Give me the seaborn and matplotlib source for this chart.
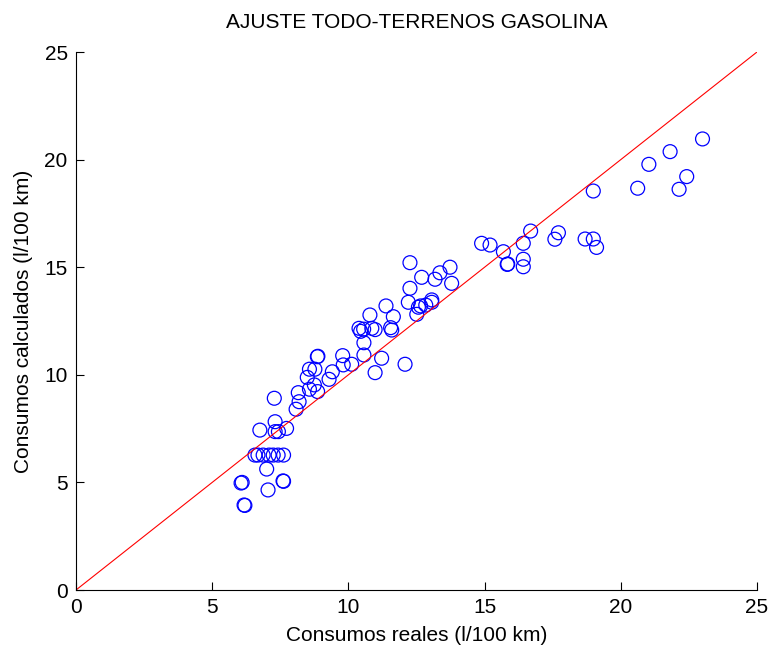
import matplotlib
matplotlib.use("Agg")
import matplotlib.pyplot as plt
import seaborn as sns
import pandas as pd

reales = [6.06, 6.10, 6.17, 6.20, 7.05, 7.00, 7.60, 7.62,
          6.57, 6.68, 6.87, 7.09, 7.24, 7.42, 7.62,
          6.75, 7.31, 7.43, 7.31, 7.73, 7.28,
          8.08, 8.19, 8.16, 8.49, 8.57, 8.77, 8.86, 8.88,
          8.75, 8.57, 8.87, 9.29, 9.41, 9.79, 9.81, 10.12,
          10.57, 10.57, 10.98, 11.22, 12.08,
          10.39, 10.45, 10.56, 10.86, 10.98, 10.79, 11.38,
          11.65, 11.55, 11.59, 12.20, 12.26, 12.26,
          12.57, 12.65, 12.84, 13.06, 13.06, 12.51,
          12.69, 13.18, 13.36, 13.73, 13.79,
          14.89, 15.20, 15.69, 15.83, 15.85, 16.42, 16.69, 16.42, 16.42,
          17.71, 17.58, 18.69, 18.99, 19.11,
          18.99, 20.62, 21.03, 21.81, 23.00, 22.42, 22.14]
calculados = [4.97, 5.00, 3.95, 3.93, 4.65, 5.62, 5.07, 5.05,
              6.27, 6.27, 6.27, 6.27, 6.27, 6.27, 6.27,
              7.43, 7.82, 7.36, 7.36, 7.51, 8.91,
              8.40, 8.75, 9.17, 9.88, 10.26, 10.26, 10.84, 10.86,
              9.53, 9.33, 9.22, 9.79, 10.14, 10.89, 10.46, 10.49,
              11.49, 10.92, 10.10, 10.77, 10.49,
              12.16, 12.02, 12.12, 12.16, 12.10, 12.78, 13.20,
              12.70, 12.19, 12.08, 13.37, 14.02, 15.21,
              13.14, 13.20, 13.24, 13.48, 13.37, 12.81,
              14.53, 14.44, 14.74, 15.00, 14.25,
              16.11, 16.03, 15.72, 15.13, 15.15, 16.11, 16.68, 15.37, 15.02,
              16.60, 16.30, 16.31, 16.31, 15.92,
              18.54, 18.67, 19.78, 20.37, 20.96, 19.21, 18.62]
linea = [0, 25]
ticks = [0, 5, 10, 15, 20, 25]

sns.set_style("white")
plt.rcParams['font.family'] = ['Liberation Sans', 'DejaVu Sans']
plt.rcParams['text.color'] = 'black'
plt.rcParams['axes.labelcolor'] = 'black'

df = pd.DataFrame({"x": reales, "y": calculados})
fig = plt.figure(figsize=(7.69, 6.46), dpi=100)
ax = fig.add_axes([76/769, 56/646, 681/769, 538/646])

sns.lineplot(x=linea, y=linea, ax=ax, color="red", linewidth=0.8)
sns.scatterplot(data=df, x="x", y="y", ax=ax, marker="o", s=100,
                facecolor="none", edgecolor="blue", linewidth=0.9)

ax.set_xlim(0, 25)
ax.set_ylim(0, 25)
ax.set_xticks(ticks)
ax.set_yticks(ticks)
ax.tick_params(direction="in", length=6, width=0.8, labelsize=15, colors="black",
               bottom=True, left=True, pad=6)
for s in ["top", "right"]:
    ax.spines[s].set_visible(False)
for s in ["left", "bottom"]:
    ax.spines[s].set_color("black")
    ax.spines[s].set_linewidth(0.8)

ax.set_xlabel("Consumos reales (l/100 km)", fontsize=15, labelpad=6, color="black")
ax.set_ylabel("Consumos calculados (l/100 km)", fontsize=15, labelpad=8, color="black")
ax.set_title("AJUSTE TODO-TERRENOS GASOLINA", fontsize=15, pad=17, color="black")

fig.savefig("out.png", dpi=100)
